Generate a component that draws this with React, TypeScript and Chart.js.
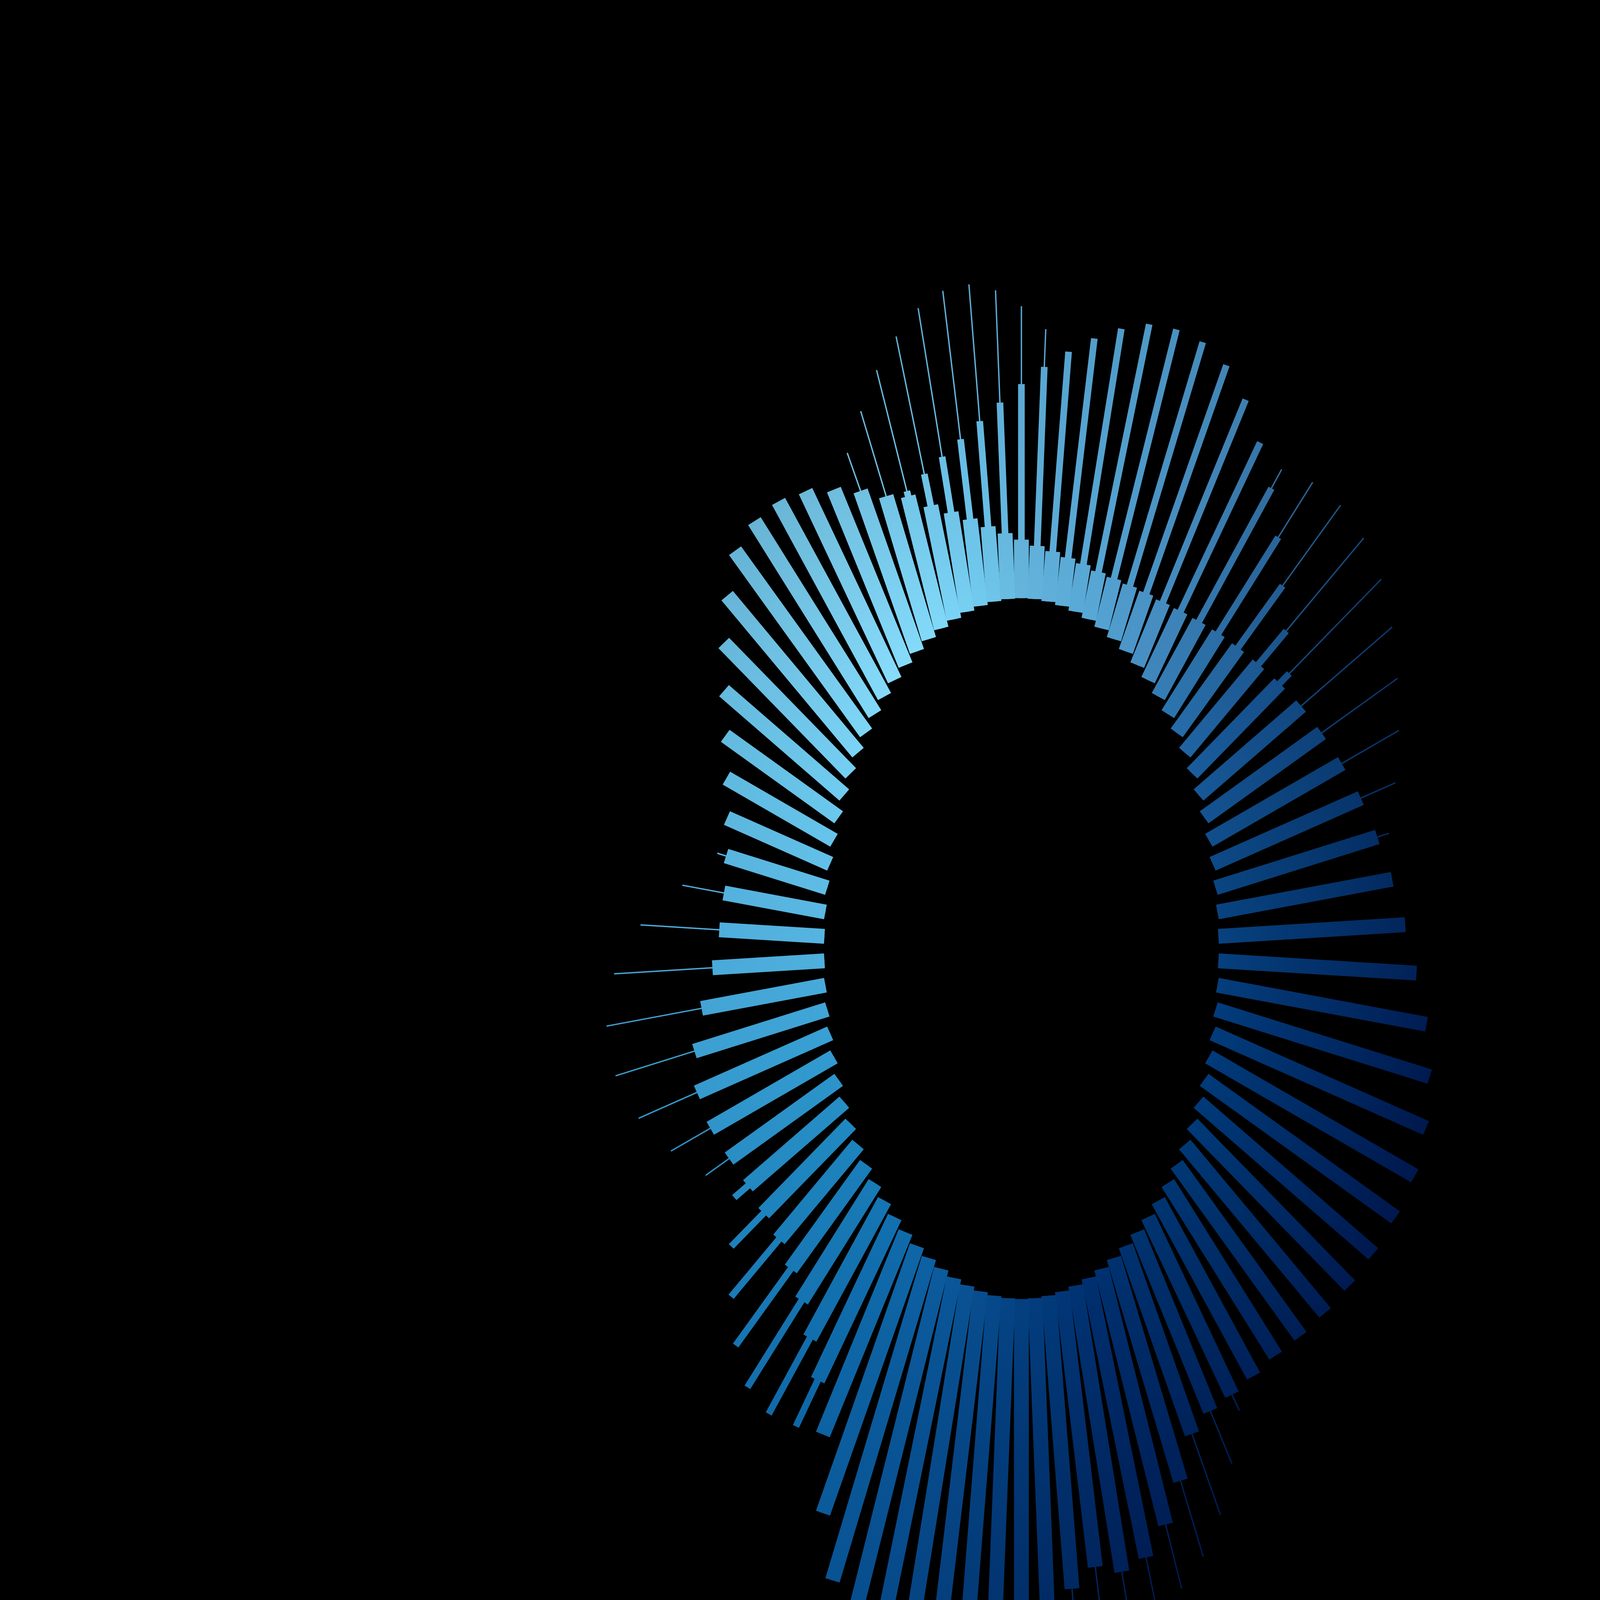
import { useEffect, useRef } from "react";
import { Chart, registerables } from "chart.js";

Chart.register(...registerables);

const _ = null;

// bars start on a ring of radius 100 (data units) and run outwards
const INNER_RADIUS = 100;
const BAR_COUNT = 90; // one bar every 4°, clockwise from 12 o'clock

// bar lengths beyond the ring
const wideBars = [
  16.7, 15.2, 14.4, 14.0, 14.1, 14.4, 15.6, 17.3, 19.6, 22.2,
  25.7, 29.8, 34.5, 39.5, 45.1, 51.3, 57.9, 64.3, 70.9, 77.5,
  83.4, 89.2, 94.9, 100.6, 106.7, 110.4, 111.6, 109.9, 104.8, 98.7,
  92.4, 85.9, 79.7, 73.6, 69.6, 66.2, 63.1, 63.3, 72.0, 79.9,
  84.9, 85.0, 80.4, 84.5, 90.3, 95.6, 98.7, 100.8, 104.0, 106.1,
  107.2, 108.8, 104.2, 90.0, 71.4, 60.8, 54.5, 50.1, 48.5, 48.4,
  51.0, 54.4, 60.0, 66.0, 69.7, 68.5, 63.2, 56.9, 53.4, 51.8,
  52.2, 54.0, 57.4, 62.1, 67.9, 74.4, 80.1, 84.4, 82.3, 77.4,
  70.4, 61.9, 54.0, 46.2, 41.3, 34.5, 29.5, 25.3, 21.6, 18.8,
];

const midBars = [
  61.1, 66.4, 72.0, 78.0, 84.0, 89.6, 93.4, 96.0, 96.3, 93.6,
  88.5, 82.6, 75.4, 68.2, 62.1, 57.0, _, _, _, _,
  _, _, _, _, _, _, _, _, _, _,
  _, _, _, _, _, _, _, _, _, _,
  _, _, _, _, _, _, _, _, _, _,
  _, _, _, _, _, 78.0, 84.6, 87.1, 84.0, 77.7,
  70.0, 62.1, _, _, _, _, _, _, _, _,
  _, _, _, _, _, _, _, _, _, _,
  _, _, _, _, 42.9, 44.1, 46.0, 48.6, 52.0, 56.2,
];

const thinBars = [
  83.3, 77.2, _, _, _, _, _, _, _, _,
  _, 90.1, 98.9, 105.5, 109.5, 110.8, 109.3, 105.9, 101.4, 95.6,
  89.4, _, _, _, _, _, _, _, _, _,
  _, _, _, _, _, 72.1, 81.7, 90.6, 96.5, 99.9,
  104.0, 100.8, 98.7, 96.6, _, _, _, _, _, _,
  _, _, _, _, _, _, _, _, _, _,
  _, _, 72.8, 87.0, 100.2, 109.1, 111.7, 106.8, 93.4, 73.0,
  56.7, _, _, _, _, _, _, _, _, _,
  _, _, 66.8, 73.7, 80.7, 85.9, 90.1, 91.9, 91.4, 88.3,
];

// colour by angle (deg clockwise from top): at the ring, and 110 units out
const barColors: [number, string, string][] = [
  [0, "#64b4dc", "#54a2cc"], [20, "#58a8d6", "#4a94c2"], [36, "#4890c4", "#3c7cac"],
  [48, "#2c74ae", "#2a5e90"], [60, "#1a5c9c", "#0e3c70"], [80, "#0a4682", "#02265a"],
  [100, "#023c7c", "#001a50"], [120, "#003a78", "#001448"], [140, "#00346f", "#00144a"],
  [160, "#003070", "#00184c"], [180, "#044080", "#002a64"], [200, "#0a5698", "#064888"],
  [220, "#1270b0", "#0c62a2"], [240, "#2088c0", "#1c7cb8"], [256, "#38a0d4", "#3496ca"],
  [272, "#56b4e0", "#4aa8d8"], [290, "#68c6ec", "#5cb0d4"], [305, "#7cd4f6", "#60aacc"],
  [320, "#88dcfc", "#5ca4c4"], [336, "#80d8f8", "#5aa6cc"], [350, "#70c8ec", "#58a8d4"],
  [360, "#64b4dc", "#54a2cc"],
];
const FADE_LENGTH = 110;

const hexRgb = (h: string) => [1, 3, 5].map((i) => parseInt(h.slice(i, i + 2), 16));
const css = (c: number[]) => `rgb(${c.map((v) => Math.round(v)).join(",")})`;

function colorAt(deg: number, which: 1 | 2) {
  for (let i = 1; i < barColors.length; i++) {
    const d1 = barColors[i][0];
    const d0 = barColors[i - 1][0];
    if (deg <= d1) {
      const t = (deg - d0) / (d1 - d0);
      const a = hexRgb(barColors[i - 1][which]);
      const b = hexRgb(barColors[i][which]);
      return a.map((v, j) => v + (b[j] - v) * t);
    }
  }
  return hexRgb(barColors[0][which]);
}

function toPoints(lengths: (number | null)[]) {
  const pts: { x: number; y: number; bar: number }[] = [];
  lengths.forEach((len, k) => {
    if (len == null) return;
    const a = ((k * 360) / BAR_COUNT) * (Math.PI / 180);
    const r1 = INNER_RADIUS + len;
    pts.push({ x: INNER_RADIUS * Math.sin(a), y: INNER_RADIUS * Math.cos(a), bar: k });
    pts.push({ x: r1 * Math.sin(a), y: r1 * Math.cos(a), bar: k });
    pts.push({ x: NaN, y: NaN, bar: k });
  });
  return pts;
}

function segmentColor(lengths: (number | null)[]) {
  return (ctx: any) => {
    const { p0, p1, p0DataIndex, datasetIndex, chart } = ctx;
    const k = chart.data.datasets[datasetIndex].data[p0DataIndex].bar;
    const deg = (k * 360) / BAR_COUNT;
    const inner = css(colorAt(deg, 1));
    const len = lengths[k] as number;
    if (!p0 || !p1 || !isFinite(p0.x) || !isFinite(p1.x) || !len) return inner;
    const f = FADE_LENGTH / len;
    const g = chart.ctx.createLinearGradient(p0.x, p0.y, p0.x + (p1.x - p0.x) * f, p0.y + (p1.y - p0.y) * f);
    g.addColorStop(0, inner);
    g.addColorStop(1, css(colorAt(deg, 2)));
    return g;
  };
}

function series(lengths: (number | null)[], width: number) {
  return {
    data: toPoints(lengths),
    borderWidth: width,
    borderColor: "#000",
    borderCapStyle: "butt" as const,
    pointRadius: 0,
    pointHoverRadius: 0,
    spanGaps: false,
    segment: { borderColor: segmentColor(lengths) },
  };
}

function RadialBars() {
  const canvasRef = useRef<HTMLCanvasElement>(null);
  const chartRef = useRef<Chart | null>(null);

  useEffect(() => {
    if (!canvasRef.current) return;
    chartRef.current?.destroy();

    chartRef.current = new Chart(canvasRef.current, {
      type: "line",
      data: {
        datasets: [series(thinBars, 3.5), series(midBars, 17), series(wideBars, 38)] as any,
      },
      options: {
        animation: false,
        responsive: true,
        maintainAspectRatio: false,
        events: [],
        layout: { padding: 0 },
        plugins: { legend: { display: false }, tooltip: { enabled: false } },
        scales: {
          x: { type: "linear", min: -518.3, max: 293.6, display: false },
          y: { type: "linear", min: -185.9, max: 270.7, display: false },
        },
      },
    });

    return () => { chartRef.current?.destroy(); };
  }, []);

  return <div style={{ position: "fixed", inset: 0, background: "#000" }}><canvas ref={canvasRef} /></div>;
}

export default function App() {
  return <RadialBars />;
}
